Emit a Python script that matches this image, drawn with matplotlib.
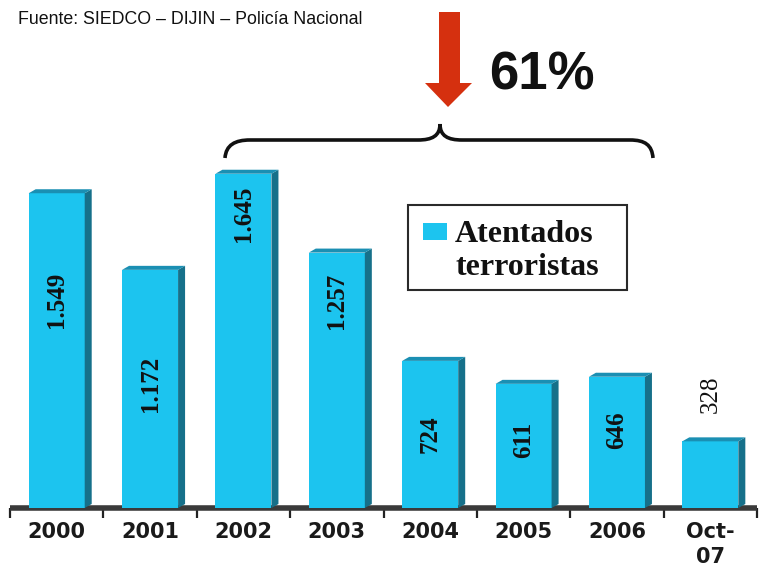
import matplotlib
matplotlib.use('Agg')
import matplotlib.pyplot as plt
from matplotlib.patches import Polygon, Rectangle, PathPatch
from matplotlib.path import Path
import matplotlib.transforms as mtransforms
from matplotlib import font_manager

# ---- data ----
categories = ['2000', '2001', '2002', '2003', '2004', '2005', '2006', 'Oct-\n07']
values = [1549, 1172, 1645, 1257, 724, 611, 646, 328]
value_labels = ['1.549', '1.172', '1.645', '1.257', '724', '611', '646', '328']
label_frac = [0.66, 0.52, 0.88, 0.81, 0.50, 0.55, 0.59, 1.70]
series_name = 'Atentados\nterroristas'
source_text = 'Fuente: SIEDCO – DIJIN – Policía Nacional'
change_text = '61%'

names = {f.name for f in font_manager.fontManager.ttflist}
narrow = 'Liberation Sans Narrow' if 'Liberation Sans Narrow' in names else 'Liberation Sans'

W, H = 761, 569
fig = plt.figure(figsize=(W / 100, H / 100), dpi=100)
fig.patch.set_facecolor('white')
ax = fig.add_axes([10 / W, 61 / H, 747 / W, 508 / H])
ax.set_xlim(-0.5, 7.5)
ax.set_ylim(0, 2500)
for s in ax.spines.values():
    s.set_visible(False)
ax.set_yticks([])

front = '#1cc4ef'
side = '#16708a'
topc = '#1a8fb3'
bw = 0.6
dx = 7 / (747 / 8)
dy = 4 / (508 / 2500)

xs = list(range(len(values)))
ax.bar(xs, values, width=bw, color=front, zorder=3, linewidth=0)
for x, v in zip(xs, values):
    r = x + bw / 2
    l = x - bw / 2
    ax.add_patch(Polygon([(r, 0), (r + dx, dy), (r + dx, v + dy), (r, v)],
                         closed=True, facecolor=side, edgecolor='none', zorder=3))
    ax.add_patch(Polygon([(l, v), (l + dx, v + dy), (r + dx, v + dy), (r, v)],
                         closed=True, facecolor=topc, edgecolor='none', zorder=3))

for x, v, t, f in zip(xs, values, value_labels, label_frac):
    ax.text(x, v * f, t, rotation=90, ha='center', va='center', fontsize=18,
            fontweight='bold' if f < 1 else 'normal', family='Liberation Serif',
            color='#111111', zorder=5)

# floor
ax.plot([-0.5, 7.5], [0, 0], color='#3a3a3a', lw=4, solid_capstyle='butt',
        clip_on=False, zorder=2)

ax.set_xticks([i - 0.5 for i in range(len(values) + 1)])
ax.set_xticklabels([])
ax.tick_params(axis='x', which='major', length=7, width=1.6, color='#222222', direction='out')
ax.set_xticks(xs, minor=True)
ax.set_xticklabels(categories, minor=True, fontsize=15, fontweight='bold',
                   family='DejaVu Sans', color='#1a1a1a', linespacing=1.35)
ax.tick_params(axis='x', which='minor', length=0, pad=10)

# pixel transform (origin top-left)
px = mtransforms.Affine2D().scale(1 / W, -1 / H).translate(0, 1) + fig.transFigure

fig.text(18, 20, source_text, transform=px, fontsize=12.8, family='Liberation Sans',
         va='center', ha='left', color='#111111')

# red arrow
arrow = Polygon([(439, 12), (460, 12), (460, 83), (472, 83), (448, 107),
                 (425, 83), (439, 83)], closed=True, transform=px,
                facecolor='#d5300f', edgecolor='none')
fig.patches.append(arrow)

fig.text(489, 90, change_text, transform=px, fontsize=38, fontweight='bold',
         family=narrow, ha='left', va='baseline', color='#111111')

# brace
verts = [(225, 158), (226, 145), (235, 140), (250, 140),
         (418, 140),
         (432, 140), (440, 136), (440, 124),
         (440, 136), (448, 140), (462, 140),
         (630, 140),
         (645, 140), (652, 145), (653, 158)]
codes = [Path.MOVETO, Path.CURVE4, Path.CURVE4, Path.CURVE4,
         Path.LINETO,
         Path.CURVE4, Path.CURVE4, Path.CURVE4,
         Path.CURVE4, Path.CURVE4, Path.CURVE4,
         Path.LINETO,
         Path.CURVE4, Path.CURVE4, Path.CURVE4]
brace = PathPatch(Path(verts, codes), transform=px, facecolor='none',
                  edgecolor='#111111', lw=2.6)
fig.patches.append(brace)

# legend box
fig.patches.append(Rectangle((408, 205), 219, 85, transform=px, facecolor='white',
                             edgecolor='#2a2a2a', lw=1.5))
fig.patches.append(Rectangle((423, 223), 24, 17, transform=px, facecolor=front,
                             edgecolor='none'))
fig.text(455, 242, series_name.split('\n')[0], transform=px, fontsize=23, fontweight='bold',
         family='Liberation Serif', ha='left', va='baseline', color='#111111')
fig.text(455, 275, series_name.split('\n')[1], transform=px, fontsize=23, fontweight='bold',
         family='Liberation Serif', ha='left', va='baseline', color='#111111')

fig.savefig('out.png', dpi=100, facecolor='white')
